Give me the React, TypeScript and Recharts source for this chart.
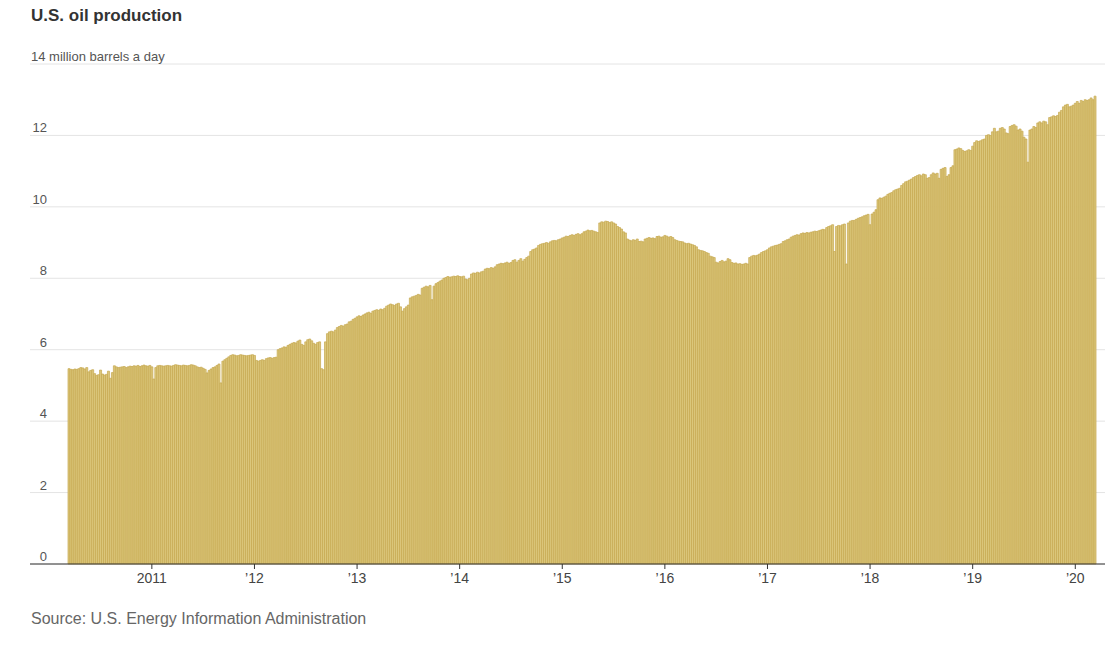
import React from 'react';
import { BarChart, Bar, XAxis, YAxis, CartesianGrid } from 'recharts';

// Weekly U.S. field production, million barrels a day
const weeks2010 = [
  5.47, 5.45, 5.44, 5.46, 5.45, 5.47, 5.5, 5.49, 5.46, 5.5,
  5.38, 5.42, 5.44, 5.33, 5.28, 5.3, 5.43, 5.32, 5.29, 5.31,
  5.4, 5.2, 5.36, 5.55, 5.52, 5.5, 5.51, 5.52, 5.53, 5.5,
  5.52, 5.54, 5.53, 5.55, 5.54, 5.56, 5.53, 5.55, 5.57, 5.55,
  5.54, 5.56,
];
const weeks2011 = [
  5.52, 5.18, 5.5, 5.55, 5.56, 5.55, 5.54, 5.55, 5.56, 5.55,
  5.54, 5.56, 5.58, 5.57, 5.56, 5.55, 5.57, 5.56, 5.55, 5.56,
  5.58, 5.57, 5.55, 5.52, 5.5, 5.51, 5.48, 5.45, 5.35, 5.42,
  5.46, 5.5, 5.52, 5.56, 5.6, 5.07, 5.68, 5.72, 5.76, 5.8,
  5.84, 5.86, 5.85, 5.83, 5.84, 5.86, 5.85, 5.84, 5.83, 5.84,
  5.85, 5.86,
];
const weeks2012 = [
  5.84, 5.7, 5.68, 5.7, 5.72, 5.7, 5.75, 5.77, 5.78, 5.76,
  5.78, 5.79, 6.0, 6.03, 6.05, 6.08, 6.07, 6.12, 6.15, 6.18,
  6.2, 6.19, 6.24, 6.27, 6.15, 6.12, 6.22, 6.28, 6.3, 6.25,
  6.18, 6.15, 6.2, 6.22, 5.47, 5.44, 6.22, 6.45, 6.5, 6.52,
  6.5, 6.55, 6.62, 6.65, 6.68, 6.66, 6.7, 6.72, 6.78, 6.8,
  6.85, 6.88,
];
const weeks2013 = [
  6.92, 6.95, 6.93, 6.97, 7.0, 7.03, 7.05, 7.02, 7.08, 7.1,
  7.12, 7.1, 7.14, 7.12, 7.16, 7.22, 7.25, 7.28, 7.26, 7.24,
  7.28, 7.3, 7.2, 7.08, 7.15, 7.2, 7.25, 7.45, 7.48, 7.5,
  7.52, 7.55, 7.53, 7.72, 7.75, 7.78, 7.76, 7.8, 7.4, 7.78,
  7.85, 7.88, 7.92, 7.95, 8.0, 8.02, 8.05, 8.03, 8.04, 8.06,
  8.05, 8.07,
];
const weeks2014 = [
  8.05, 8.04, 8.06, 7.98, 7.96, 8.0, 8.12, 8.15, 8.14, 8.17,
  8.15, 8.18, 8.2, 8.26, 8.28, 8.27, 8.3, 8.28, 8.32, 8.38,
  8.4, 8.42, 8.41, 8.43, 8.45, 8.42, 8.44, 8.5, 8.52, 8.45,
  8.5, 8.55, 8.48, 8.53, 8.58, 8.62, 8.75, 8.8, 8.82, 8.85,
  8.92, 8.95, 8.97, 8.98, 9.0, 8.98, 9.02, 9.05, 9.06, 9.05,
  9.08, 9.1,
];
const weeks2015 = [
  9.13, 9.15, 9.18, 9.17, 9.2, 9.22, 9.2, 9.23, 9.25, 9.22,
  9.25, 9.3, 9.32, 9.35, 9.33, 9.34, 9.32, 9.3, 9.28, 9.55,
  9.58, 9.57, 9.6, 9.59, 9.56, 9.58, 9.55, 9.52, 9.45, 9.42,
  9.38, 9.3, 9.27, 9.1, 9.07, 9.05, 9.08, 9.06, 9.1, 9.03,
  9.04, 9.02, 9.1, 9.12, 9.14, 9.12, 9.13, 9.11, 9.17, 9.18,
  9.15, 9.16,
];
const weeks2016 = [
  9.2, 9.18, 9.15, 9.17, 9.14, 9.08, 9.06, 9.04, 9.03, 9.02,
  8.99, 8.97, 8.98, 8.96, 8.94, 8.92, 8.88, 8.8, 8.78, 8.77,
  8.75, 8.72, 8.7, 8.62, 8.6, 8.58, 8.45, 8.43, 8.47, 8.5,
  8.46, 8.48, 8.55, 8.52, 8.44, 8.42, 8.43, 8.4, 8.41, 8.39,
  8.4, 8.42, 8.4, 8.58, 8.62, 8.64, 8.63, 8.65, 8.68, 8.72,
  8.75, 8.77,
];
const weeks2017 = [
  8.8, 8.85, 8.88, 8.9, 8.92, 8.93, 8.95, 8.97, 9.03, 9.05,
  9.08, 9.1, 9.15, 9.18, 9.2, 9.22, 9.21, 9.25, 9.27, 9.26,
  9.28, 9.27, 9.29, 9.3, 9.32, 9.31, 9.33, 9.35, 9.37, 9.36,
  9.42, 9.45, 9.47, 9.5, 8.75, 9.45, 9.48, 9.47, 9.5, 9.52,
  8.4, 9.55, 9.6, 9.62, 9.62, 9.65, 9.68, 9.7, 9.72, 9.75,
  9.77, 9.79,
];
const weeks2018 = [
  9.5, 9.8, 9.85, 9.92, 10.2, 10.25, 10.24, 10.27, 10.3, 10.35,
  10.38, 10.4, 10.45, 10.48, 10.5, 10.52, 10.6, 10.65, 10.7, 10.72,
  10.75, 10.78, 10.82, 10.85, 10.88, 10.9, 10.87, 10.92, 10.9, 10.8,
  10.82, 10.9, 10.95, 10.92, 10.94, 10.8, 11.05, 11.08, 11.1, 10.85,
  10.9, 11.1, 11.15, 11.6, 11.62, 11.65, 11.63, 11.58, 11.55, 11.57,
  11.6, 11.58,
];
const weeks2019 = [
  11.7, 11.8, 11.85, 11.83, 11.85, 11.88, 11.9, 12.0, 12.02, 12.0,
  12.1, 12.2, 12.1, 12.12, 12.2, 12.22, 12.18, 12.07, 12.05, 12.25,
  12.28, 12.3, 12.26, 12.15, 12.18, 12.12, 11.95, 11.9, 11.25, 12.15,
  12.18, 12.25, 12.22, 12.35, 12.38, 12.35, 12.4, 12.38, 12.3, 12.5,
  12.52, 12.55, 12.53, 12.56, 12.65, 12.7, 12.8, 12.85, 12.87, 12.8,
  12.82, 12.85,
];
const weeks2020 = [12.9, 12.95, 12.9, 12.98, 12.95, 13.0, 12.98, 13.0, 13.05, 13.0, 13.1];

const yearNames = [2010, 2011, 2012, 2013, 2014, 2015, 2016, 2017, 2018, 2019, 2020];
const yearLabels = ['', '2011', '\u201912', '\u201913', '\u201914', '\u201915', '\u201916', '\u201917', '\u201918', '\u201919', '\u201920'];
const yearValues = [
  weeks2010, weeks2011, weeks2012, weeks2013, weeks2014, weeks2015,
  weeks2016, weeks2017, weeks2018, weeks2019, weeks2020,
];
const yTicks = [0, 2, 4, 6, 8, 10, 12, 14];

const data = yearNames.flatMap((year, yi) =>
  yearValues[yi].map((value, wi) => ({ key: `${year}-${wi}`, value }))
);
const xTicks = yearNames.slice(1).map((year) => `${year}-0`);
const labelFor: Record<string, string> = {};
yearNames.forEach((year, yi) => {
  labelFor[`${year}-0`] = yearLabels[yi];
});

const FONT = '"Liberation Sans", Arial, sans-serif';

const YTick = (props: any) => {
  const { y, payload } = props;
  if (payload.value === 14) {
    return (
      <text x={31} y={y - 3} fill="#555" fontSize={13} fontFamily={FONT} textAnchor="start">
        14 million barrels a day
      </text>
    );
  }
  return (
    <text x={47} y={y - 3} fill="#555" fontSize={13} fontFamily={FONT} textAnchor="end">
      {payload.value}
    </text>
  );
};

const XTick = (props: any) => {
  const { x, y, payload } = props;
  return (
    <text x={x} y={y + 12} fill="#444" fontSize={14} fontFamily={FONT} textAnchor="middle">
      {labelFor[payload.value]}
    </text>
  );
};

export default function App() {
  return (
    <div
      style={{
        position: 'absolute',
        left: 0,
        top: 0,
        width: 1120,
        height: 646,
        background: '#fff',
        fontFamily: FONT,
      }}
    >
      <div
        style={{
          position: 'absolute',
          left: 31,
          top: 7,
          fontSize: 17,
          lineHeight: '17px',
          fontWeight: 700,
          color: '#333',
        }}
      >
        U.S. oil production
      </div>

      <BarChart
        width={1120}
        height={646}
        data={data}
        margin={{ top: 64, right: 15, left: 29, bottom: 52 }}
        barCategoryGap={0}
      >
        <CartesianGrid horizontal vertical={false} stroke="#e4e4e4" />
        <XAxis
          dataKey="key"
          ticks={xTicks}
          interval={0}
          height={30}
          padding={{ left: 38, right: 9 }}
          axisLine={{ stroke: '#333' }}
          tickLine={{ stroke: '#333' }}
          tickSize={5}
          tick={<XTick />}
        />
        <YAxis
          domain={[0, 14]}
          ticks={yTicks}
          interval={0}
          width={1}
          axisLine={false}
          tickLine={false}
          tick={<YTick />}
        />
        <Bar
          dataKey="value"
          fill="#dcc87d"
          stroke="#c5a84f"
          strokeWidth={0.7}
          isAnimationActive={false}
        />
      </BarChart>

      <div
        style={{
          position: 'absolute',
          left: 31,
          top: 611,
          fontSize: 16,
          lineHeight: '16px',
          color: '#666',
        }}
      >
        Source: U.S. Energy Information Administration
      </div>
    </div>
  );
}
